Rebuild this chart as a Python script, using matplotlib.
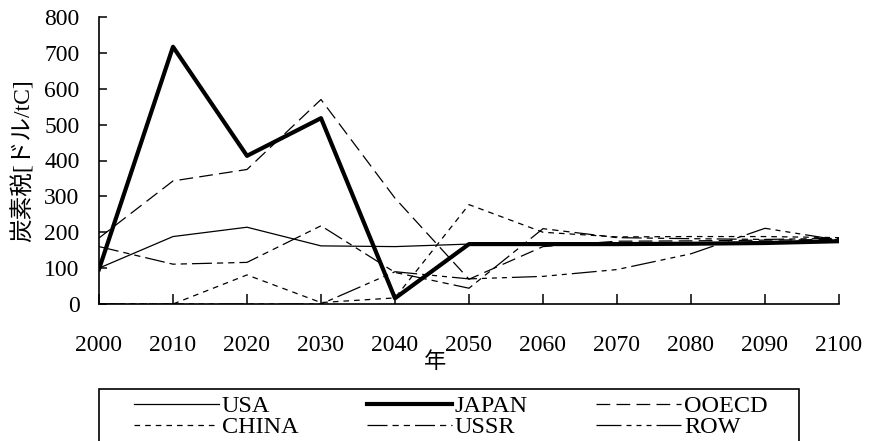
import matplotlib
matplotlib.use("Agg")
import matplotlib.pyplot as plt
from matplotlib.patches import Rectangle

# Carbon tax trajectories by region, USD per tonne of carbon
years = [2000, 2010, 2020, 2030, 2040, 2050, 2060, 2070, 2080, 2090, 2100]
usa = [100, 188, 214, 162, 160, 167, 168, 168, 170, 172, 175]
japan = [97, 717, 413, 518, 16, 167, 167, 167, 168, 170, 175]
ooecd = [184, 343, 375, 570, 295, 69, 160, 175, 176, 178, 180]
china = [0, 0, 81, 4, 17, 277, 200, 187, 188, 188, 185]
ussr = [160, 111, 116, 218, 88, 44, 210, 185, 182, 180, 183]
row = [0, 0, 0, 0, 90, 70, 77, 96, 140, 211, 178]

y_ticks = [0, 100, 200, 300, 400, 500, 600, 700, 800]
x_ticks = years

SERIF = ["Liberation Serif", "Noto Sans CJK JP"]
plt.rcParams["font.family"] = SERIF

W, H = 873, 441
fig = plt.figure(figsize=(W / 100, H / 100), dpi=100)
ax_left, ax_right, ax_top, ax_bottom = 99, 839, 17, 304
ax = fig.add_axes([ax_left / W, 1 - ax_bottom / H,
                   (ax_right - ax_left) / W, (ax_bottom - ax_top) / H])

styles = {
    "USA": dict(color="black", lw=0.9, ls="-"),
    "JAPAN": dict(color="black", lw=3.0, ls="-"),
    "OOECD": dict(color="black", lw=0.9, ls=(0, (11, 5))),
    "CHINA": dict(color="black", lw=0.9, ls=(0, (4.5, 4))),
    "USSR": dict(color="black", lw=0.9, ls=(0, (16, 4, 5, 4, 5, 4))),
    "ROW": dict(color="black", lw=0.9, ls=(0, (20, 4, 4, 4, 4, 4, 4, 4))),
}
series = {"USA": usa, "JAPAN": japan, "OOECD": ooecd,
          "CHINA": china, "USSR": ussr, "ROW": row}

lines = {}
for name, vals in series.items():
    (ln,) = ax.plot(years, vals, label=name, **styles[name])
    lines[name] = ln

ax.set_xlim(2000, 2100)
ax.set_ylim(0, 800)
ax.set_xticks(x_ticks)
ax.set_yticks(y_ticks)
ax.tick_params(axis="both", direction="in", labelsize=17, width=1.1, colors="black")
ax.tick_params(axis="x", length=7, pad=22)
ax.tick_params(axis="y", length=6, pad=14)
for s in ("top", "right"):
    ax.spines[s].set_visible(False)
for s in ("left", "bottom"):
    ax.spines[s].set_linewidth(1.2)

aw = ax_right - ax_left
ah = ax_bottom - ax_top
ax.set_ylabel("炭素税[ドル/tC]", fontsize=17, family=SERIF)
ax.yaxis.set_label_coords((23 - ax_left) / aw, 0.5)
ax.set_xlabel("年", fontsize=16, family=["Noto Sans CJK JP"])
ax.xaxis.set_label_coords((435 - ax_left) / aw, -(361 - ax_bottom) / ah)
ax.xaxis.label.set_va("center")
ax.yaxis.label.set_va("center")

# legend frame spans below the figure edge
fig.add_artist(Rectangle((99 / W, -0.1), (799 - 99) / W, 0.1 + (1 - 389 / H),
                         transform=fig.transFigure, fill=False, lw=1.2, ec="black"))

order = ["USA", "CHINA", "JAPAN", "USSR", "OOECD", "ROW"]
fig.legend([lines[n] for n in order], order, loc="upper left",
           bbox_to_anchor=(134 / W, 1 - 395 / H), ncol=3, frameon=False,
           handlelength=3.5, handletextpad=0.12, columnspacing=2.8,
           borderpad=0, borderaxespad=0, labelspacing=-0.03,
           prop={"family": SERIF, "size": 17.5})

fig.savefig("out.png", dpi=100)
